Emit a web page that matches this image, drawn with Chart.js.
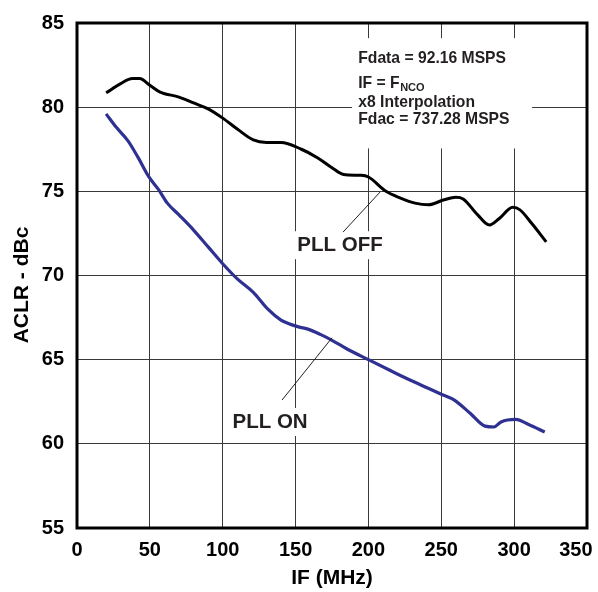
<!DOCTYPE html>
<html><head><meta charset="utf-8">
<script src="https://cdn.jsdelivr.net/npm/chart.js@4"></script>
<style>html,body{margin:0;padding:0;background:#fff}#wrap{width:598px;height:592px}</style>
</head><body><div id="wrap"><canvas id="c" width="598" height="592"></canvas></div>
<script>
const xTicks = [0, 50, 100, 150, 200, 250, 300, 350];
const yTicks = [55, 60, 65, 70, 75, 80, 85];
const xTitle = 'IF (MHz)';
const yTitle = 'ACLR - dBc';

const pllOffIF   = [20, 30, 38, 43, 50, 57, 70, 80, 90, 100, 110, 121, 130, 140, 154, 165, 175, 183, 195, 200, 212, 222, 232, 241, 252, 260, 265, 275, 283, 290, 299, 304, 312, 322];
const pllOffACLR = [80.85, 81.4, 81.7, 81.7, 81.3, 80.9, 80.6, 80.25, 79.9, 79.35, 78.7, 78.05, 77.9, 77.9, 77.5, 77.0, 76.4, 76.0, 75.95, 75.85, 75.0, 74.6, 74.3, 74.2, 74.5, 74.65, 74.55, 73.6, 73.0, 73.4, 74.05, 73.9, 73.1, 72.0];

const pllOnIF   = [20, 27, 35, 42, 49, 56, 62, 70, 80, 90, 100, 110, 121, 131, 140, 145, 152, 159, 167, 175, 185, 200, 214, 227, 241, 250, 259, 270, 280, 286, 291, 301, 310, 321];
const pllOnACLR = [79.6, 78.8, 78.0, 77.0, 75.9, 75.1, 74.3, 73.6, 72.7, 71.7, 70.7, 69.8, 69.0, 68.0, 67.35, 67.15, 66.95, 66.8, 66.5, 66.15, 65.65, 65.0, 64.4, 63.85, 63.3, 62.95, 62.6, 61.8, 61.05, 61.0, 61.3, 61.45, 61.15, 60.7];

const noteLines = ['Fdata = 92.16 MSPS', 'IF = F', 'x8 Interpolation', 'Fdac = 737.28 MSPS'];
const noteSub = 'NCO';
const labelOff = 'PLL OFF';
const labelOn = 'PLL ON';

const FAM = '"Liberation Sans", Arial, Helvetica, sans-serif';
const TXT = '#231f20';

const overlay = {
  id: 'overlay',
  beforeDatasetsDraw(chart) {
    const {ctx, scales: {x, y}} = chart;
    ctx.save();
    ctx.fillStyle = '#fff';
    const bx0 = x.getPixelForValue(188.7), bx1 = x.getPixelForValue(312.3);
    const by0 = y.getPixelForValue(84.1), by1 = y.getPixelForValue(77.55);
    ctx.fillRect(bx0, by0, bx1 - bx0, by1 - by0);
    ctx.font = 'bold 20.5px ' + FAM;
    [[labelOff, 180.5, 71.8], [labelOn, 132.5, 61.3]].forEach(([t, vx, vy]) => {
      const w = ctx.measureText(t).width;
      const cx = x.getPixelForValue(vx), cy = y.getPixelForValue(vy);
      ctx.fillRect(cx - w / 2 - 7, cy - 14, w + 14, 28);
    });
    ctx.restore();
  },
  afterDatasetsDraw(chart) {
    const {ctx, chartArea: a, scales: {x, y}} = chart;
    ctx.save();
    ctx.strokeStyle = TXT;
    ctx.lineWidth = 1;
    [[182.6, 72.58, 208.0, 74.96], [140.7, 62.6, 175.0, 66.3]].forEach(([x0, y0, x1, y1]) => {
      ctx.beginPath();
      ctx.moveTo(x.getPixelForValue(x0), y.getPixelForValue(y0));
      ctx.lineTo(x.getPixelForValue(x1), y.getPixelForValue(y1));
      ctx.stroke();
    });
    ctx.fillStyle = TXT;
    ctx.font = 'bold 20.5px ' + FAM;
    ctx.textAlign = 'center';
    ctx.textBaseline = 'middle';
    ctx.fillText(labelOff, x.getPixelForValue(180.5), y.getPixelForValue(71.8));
    ctx.fillText(labelOn, x.getPixelForValue(132.5), y.getPixelForValue(61.3));
    ctx.textAlign = 'left';
    ctx.textBaseline = 'alphabetic';
    ctx.font = 'bold 15.7px ' + FAM;
    const nx = x.getPixelForValue(193), ny = y.getPixelForValue(82.6);
    const offs = [0, 25, 43.4, 61];
    noteLines.forEach((t, i) => ctx.fillText(t, nx, ny + offs[i]));
    const w = ctx.measureText(noteLines[1]).width;
    ctx.font = 'bold 11px ' + FAM;
    ctx.fillText(noteSub, nx + w + 0.5, ny + offs[1] + 2.6);
    ctx.strokeStyle = '#000';
    ctx.lineWidth = 3;
    ctx.strokeRect(a.left, a.top, a.right - a.left, a.bottom - a.top);
    ctx.fillStyle = '#000';
    ctx.font = 'bold 21px ' + FAM;
    ctx.textAlign = 'center';
    ctx.textBaseline = 'middle';
    ctx.translate(22, (a.top + a.bottom) / 2 + 9.5);
    ctx.rotate(-Math.PI / 2);
    ctx.fillText(yTitle, 0, 0);
    ctx.restore();
  }
};

new Chart(document.getElementById('c'), {
  type: 'line',
  data: {
    datasets: [
      {
        label: labelOff,
        data: pllOffIF.map((v, i) => ({x: v, y: pllOffACLR[i]})),
        borderColor: '#000', borderWidth: 3, pointRadius: 0, tension: 0.4,
        cubicInterpolationMode: 'monotone', fill: false
      },
      {
        label: labelOn,
        data: pllOnIF.map((v, i) => ({x: v, y: pllOnACLR[i]})),
        borderColor: '#2e3192', borderWidth: 3.2, pointRadius: 0, tension: 0.4,
        cubicInterpolationMode: 'monotone', fill: false
      }
    ]
  },
  options: {
    responsive: false,
    animation: false,
    events: [],
    layout: {padding: {top: 23, right: 11, left: 0, bottom: 0}},
    plugins: {legend: {display: false}, tooltip: {enabled: false}, title: {display: false}},
    scales: {
      x: {
        type: 'linear', min: 0, max: 350,
        afterBuildTicks: s => { s.ticks = xTicks.map(v => ({value: v})); },
        afterFit: s => { s.height = 64; s.paddingLeft = 0; s.paddingRight = 0; },
        grid: {color: '#3a3a3a', lineWidth: 1, drawTicks: false},
        border: {display: false},
        ticks: {
          autoSkip: false, maxRotation: 0, padding: 10, color: '#000',
          font: {family: FAM, size: 20, weight: 'bold'},
          callback: v => v === 350 ? String(v) + '\u00A0\u00A0\u00A0\u00A0' : String(v)
        },
        title: {display: true, text: xTitle, color: '#000', padding: {top: 0, bottom: 1},
          font: {family: FAM, size: 21, weight: 'bold'}}
      },
      y: {
        type: 'linear', min: 55, max: 85,
        afterBuildTicks: s => { s.ticks = yTicks.map(v => ({value: v})); },
        afterFit: s => { s.width = 77; s.paddingTop = 0; s.paddingBottom = 0; },
        grid: {color: '#3a3a3a', lineWidth: 1, drawTicks: false},
        border: {display: false},
        ticks: {
          padding: 13, color: '#000',
          font: {family: FAM, size: 20, weight: 'bold'}
        },
        title: {display: false}
      }
    }
  },
  plugins: [overlay]
});
</script>
</body></html>
